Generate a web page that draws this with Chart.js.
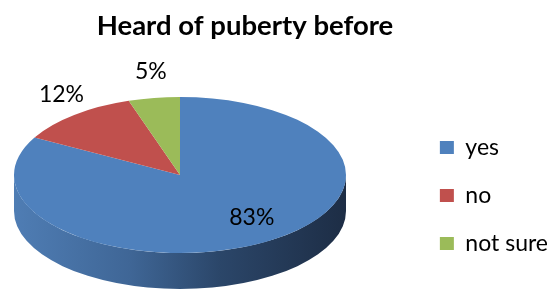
<!DOCTYPE html>
<html>
<head>
<meta charset="utf-8">
<script src="https://cdn.jsdelivr.net/npm/chart.js@4/dist/chart.umd.min.js"></script>
<style>
  html, body { margin: 0; padding: 0; background: #ffffff; }
  #c { display: block; }
</style>
</head>
<body>
<canvas id="c" width="552" height="291"></canvas>
<script>
// ---- data ----
const categories = ['yes', 'no', 'not sure'];
const percentages = [83, 12, 5];
const titleText = 'Heard of puberty before';

// ---- styles ----
const sliceColors = ['#4f81bd', '#c0504d', '#9bbb59'];
const sideStops = [
  ['#4f7db4', '#3f6696', '#2b4669', '#1d2d45'],
  ['#b84a47', '#9a3c3a', '#7a2e2c', '#5a201f'],
  ['#94b354', '#7e9a46', '#657c38', '#4c5e2a']
];
const FONT = 'Lato, "Open Sans", sans-serif';
const LABEL_SIZE = 23;
const PIE = { cx: 180, cy: 175, tilt: 78 / 166, depth: 36 };

const pie3d = {
  id: 'pie3d',
  afterLayout(chart) {
    chart.titleBlock.left = 0;
    chart.titleBlock.right = 490;
  },
  beforeDatasetsDraw(chart) {
    const ctx = chart.ctx;
    const meta = chart.getDatasetMeta(0);
    meta.data.forEach((el, i) => {
      const R = el.outerRadius;
      const ry = R * PIE.tilt;
      const g = ctx.createLinearGradient(PIE.cx - R, 0, PIE.cx + R, 0);
      const st = sideStops[i];
      g.addColorStop(0, st[0]);
      g.addColorStop(0.35, st[1]);
      g.addColorStop(0.62, st[2]);
      g.addColorStop(1, st[3]);
      [-2 * Math.PI, 0, 2 * Math.PI].forEach(shift => {
        const lo = Math.max(el.startAngle + shift, 0);
        const hi = Math.min(el.endAngle + shift, Math.PI);
        if (lo < hi) {
          ctx.save();
          ctx.beginPath();
          ctx.ellipse(PIE.cx, PIE.cy, R, ry, 0, lo, hi, false);
          ctx.ellipse(PIE.cx, PIE.cy + PIE.depth, R, ry, 0, hi, lo, true);
          ctx.closePath();
          ctx.fillStyle = g;
          ctx.fill();
          ctx.restore();
        }
      });
    });
    const el0 = meta.data[0];
    ctx.save();
    ctx.translate(PIE.cx, PIE.cy);
    ctx.scale(1, PIE.tilt);
    ctx.translate(-el0.x, -el0.y);
  },
  afterDatasetsDraw(chart) {
    const ctx = chart.ctx;
    ctx.restore();
    const meta = chart.getDatasetMeta(0);
    ctx.save();
    ctx.font = LABEL_SIZE + 'px ' + FONT;
    ctx.fillStyle = '#000000';
    ctx.textAlign = 'center';
    ctx.textBaseline = 'alphabetic';
    meta.data.forEach((el, i) => {
      const mid = (el.startAngle + el.endAngle) / 2;
      const R = el.outerRadius;
      const inside = percentages[i] >= 20;
      const fx = inside ? 0.85 : 1.12;
      const fy = inside ? 0.62 : 1.36;
      const x = PIE.cx + Math.cos(mid) * R * fx;
      const y = PIE.cy + Math.sin(mid) * R * PIE.tilt * fy;
      ctx.fillText(percentages[i] + '%', x, y + LABEL_SIZE * 0.36);
    });
    ctx.restore();
  }
};

new Chart(document.getElementById('c'), {
  type: 'pie',
  data: {
    labels: categories,
    datasets: [{
      data: percentages,
      backgroundColor: sliceColors,
      borderWidth: 0,
      radius: 166,
      clip: false
    }]
  },
  options: {
    responsive: false,
    devicePixelRatio: 1,
    animation: false,
    events: [],
    layout: { padding: { left: 0, right: -6, top: 0, bottom: 11 } },
    plugins: {
      title: {
        display: true,
        text: titleText,
        color: '#000000',
        font: { family: FONT, size: 27.5, weight: 'bold' },
        padding: { top: 10, bottom: 6 }
      },
      legend: {
        position: 'right',
        align: 'end',
        labels: {
          boxWidth: 14,
          boxHeight: 13,
          padding: 25,
          color: '#000000',
          font: { family: FONT, size: 23 }
        }
      },
      tooltip: { enabled: false }
    }
  },
  plugins: [pie3d]
});
</script>
</body>
</html>
